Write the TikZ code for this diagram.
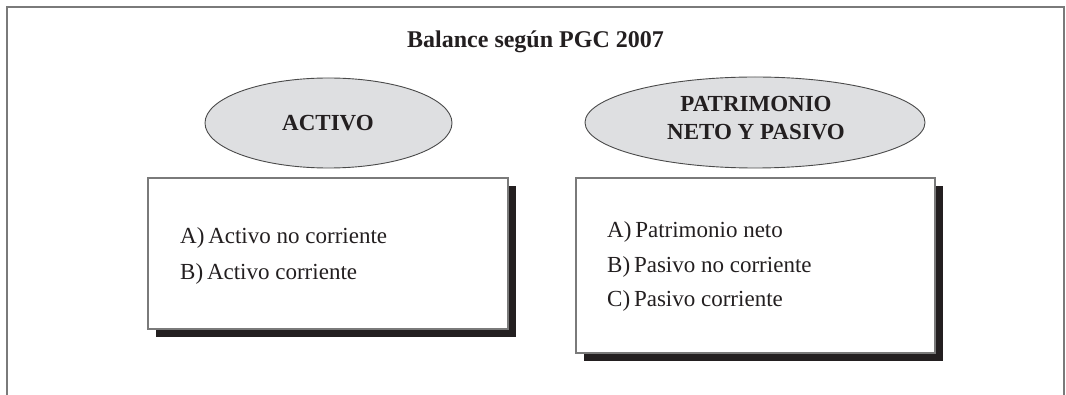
\documentclass[tikz,border=0pt]{standalone}
\usepackage{fontspec}
\setmainfont{Liberation Serif}
\usetikzlibrary{shapes.geometric,shadows}
\definecolor{ink}{HTML}{231F20}
\definecolor{framec}{HTML}{7A7A7A}
\definecolor{ellfill}{HTML}{DEDFE1}
\definecolor{ellline}{HTML}{4A4A4A}
\tikzset{
  framestyle/.style={draw=framec,line width=1.4pt},
  oval/.style={ellipse,draw=ellline,line width=0.9pt,fill=ellfill,inner sep=0pt},
  headtext/.style={text=ink,font=\fontsize{23}{28}\selectfont\bfseries,align=center,inner sep=0pt},
  titletext/.style={headtext,font=\fontsize{24}{28}\selectfont\bfseries},
  listbox/.style={rectangle,draw=framec,line width=1.2pt,fill=white,inner sep=0pt,
    drop shadow={shadow xshift=8pt,shadow yshift=-8pt,fill=ink,opacity=1}},
  listtext/.style={text=ink,font=\fontsize{23}{36}\selectfont,align=left,inner sep=0pt},
}
\begin{document}
\begin{tikzpicture}[x=1pt,y=-1pt]
\useasboundingbox (0,0) rectangle (1066,395);
% frame
\coordinate (fbl) at (7,396);
\coordinate (ftl) at (7,7);
\coordinate (ftr) at (1064,7);
\coordinate (fbr) at (1064,396);
\draw[framestyle] (fbl) -- (ftl) -- (ftr) -- (fbr);
% title
\node[titletext,anchor=base] (title) at (535.5,48) {Balance según PGC 2007};
% ellipses
\node[oval,minimum width=247pt,minimum height=90pt] (ell1) at (328.5,123) {};
\node[headtext,anchor=base] (ell1t) at (328,131) {ACTIVO};
\node[oval,minimum width=340pt,minimum height=91pt] (ell2) at (755,122.5) {};
\node[headtext,anchor=base] (ell2t) at (756,112) {PATRIMONIO};
\node[headtext,anchor=base] (ell2u) at (756,140) {NETO Y PASIVO};
% boxes
\node[listbox,minimum width=360pt,minimum height=151pt] (box1) at (328,253.5) {};
\node[listtext,anchor=base west] (b1a) at (180,244) {A)\,Activo no corriente};
\node[listtext,anchor=base west] (b1b) at (180,280) {B)\,Activo corriente};
\node[listbox,minimum width=359pt,minimum height=175pt] (box2) at (755.5,265.5) {};
\node[listtext,anchor=base west] (b2a) at (607,238) {A)\,Patrimonio neto};
\node[listtext,anchor=base west] (b2b) at (607,272.5) {B)\,Pasivo no corriente};
\node[listtext,anchor=base west] (b2c) at (607,307) {C)\,Pasivo corriente};
\end{tikzpicture}
\end{document}
